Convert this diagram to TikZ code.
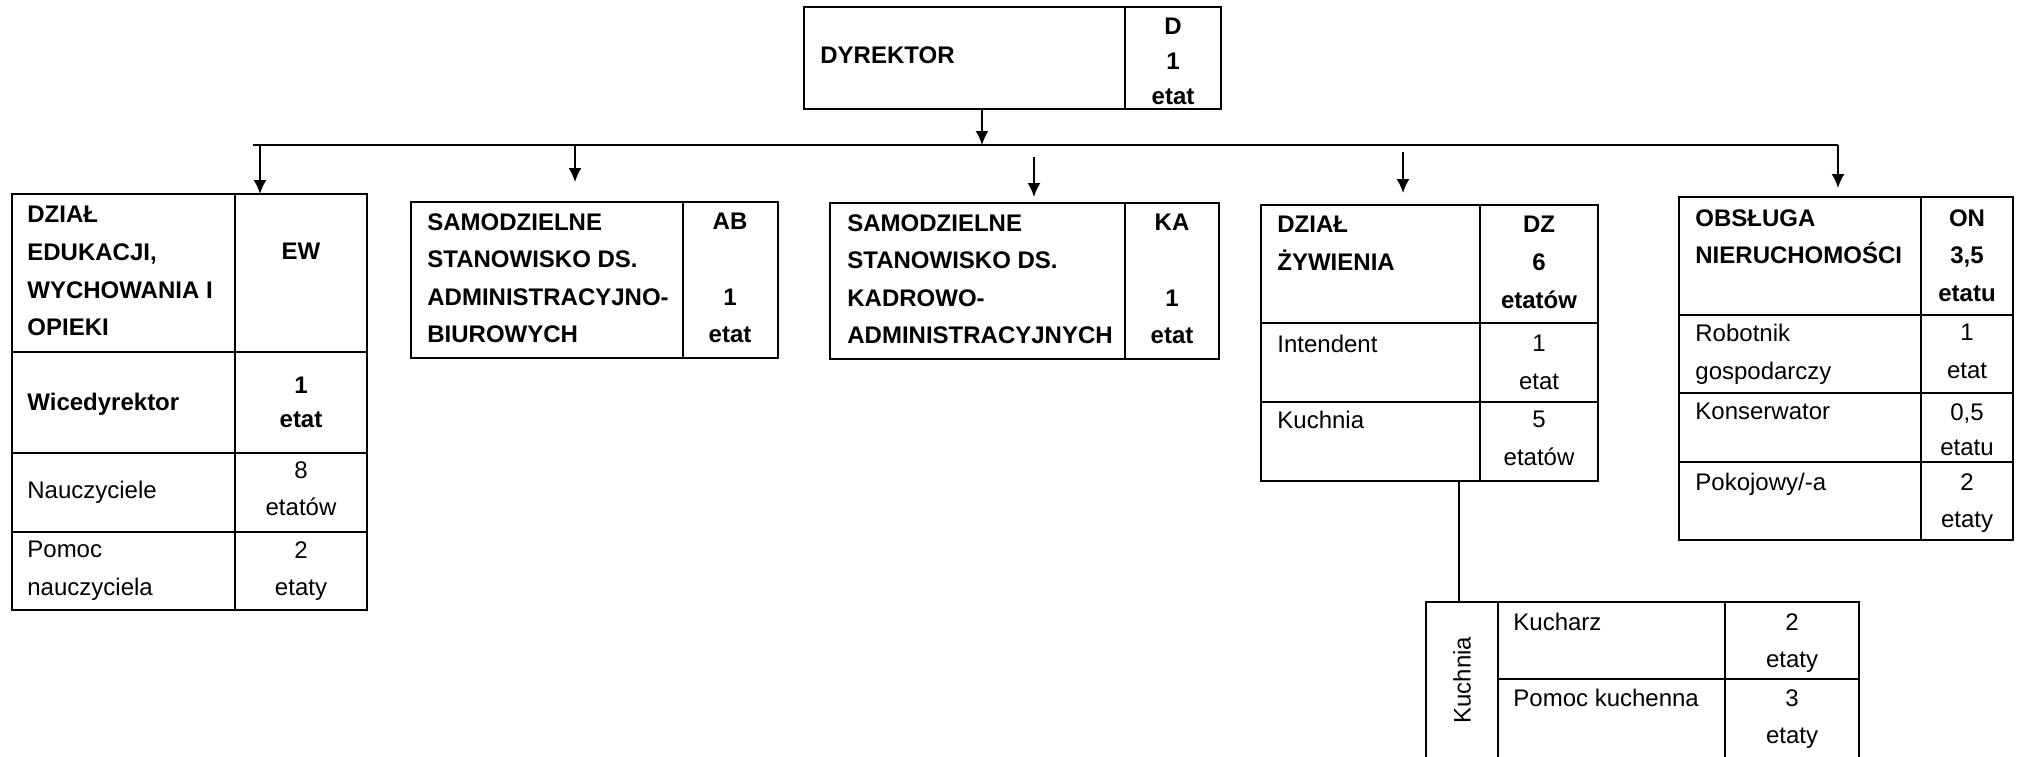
\documentclass[tikz,border=0pt]{standalone}
\usepackage{fontspec}
\setmainfont{Liberation Sans}
\usetikzlibrary{arrows.meta, positioning, calc}

\begin{document}
\begin{tikzpicture}[x=.5pt, y=-.5pt]
	\tikzstyle{box} = [draw, line width=.8pt, rectangle, anchor=north west, inner sep=0pt, outer sep=0pt]
	\tikzstyle{cell} = [line width=.8pt]
	\tikzstyle{lbl} = [anchor=north west, align=left, inner sep=0pt, font=\fontsize{12}{18.8}\selectfont]
	\tikzstyle{num} = [lbl, anchor=north, align=center]
	\tikzstyle{hd} = [lbl, font=\bfseries\fontsize{12}{18.8}\selectfont]
	\tikzstyle{hdnum} = [num, font=\bfseries\fontsize{12}{18.8}\selectfont]
	\tikzstyle{arr} = [-{Latex[length=7pt, width=6.5pt]}, line width=.9pt]
	\useasboundingbox (0,0) rectangle (2019,756);
	
	% boxes
	\node[box, minimum width=208.5pt, minimum height=51pt] (dyr) at (804,7) {};
	\node[box, minimum width=177.5pt, minimum height=208pt] (ew) at (12,194) {};
	\node[box, minimum width=183.5pt, minimum height=78pt] (ab) at (411,202) {};
	\node[box, minimum width=194.5pt, minimum height=78pt] (ka) at (830,203) {};
	\node[box, minimum width=168.5pt, minimum height=138pt] (dz) at (1261,205) {};
	\node[box, minimum width=167pt, minimum height=171.5pt] (on) at (1679,197) {};
	\node[box, minimum width=216.5pt, minimum height=78.5pt] (kuch) at (1426,602) {};
	
	% cell lines
	\draw[cell] (1125,7) -- (1125,109);
	\draw[cell] (235,194) -- (235,610) (12,352) -- (367,352) (12,453) -- (367,453) (12,532) -- (367,532);
	\draw[cell] (683,202) -- (683,358);
	\draw[cell] (1125,203) -- (1125,359);
	\draw[cell] (1480,205) -- (1480,481) (1261,323) -- (1598,323) (1261,402) -- (1598,402);
	\draw[cell] (1921,197) -- (1921,540) (1679,315) -- (2013,315) (1679,393) -- (2013,393) (1679,462) -- (2013,462);
	\draw[cell] (1498,602) -- (1498,759) (1725,602) -- (1725,759) (1498,679) -- (1859,679);
	
	% texts
	\node[hd] (dyrT) at (820,46) {DYREKTOR};
	\node[hdnum, font=\bfseries\fontsize{12}{17.5}\selectfont] (dyrN) at (1173,18) {D\\1\\etat};
	
	\node[hd] (ewT) at (27,206) {DZIAŁ\\EDUKACJI,\\WYCHOWANIA I\\OPIEKI};
	\node[hdnum] (ewN) at (301,243) {EW};
	\node[hd] (wiceT) at (27,393) {Wicedyrektor};
	\node[hdnum, font=\bfseries\fontsize{12}{17}\selectfont] (wiceN) at (301,377) {1\\etat};
	\node[lbl] (nauT) at (27,481) {Nauczyciele};
	\node[num] (nauN) at (301,461) {8\\etatów};
	\node[lbl] (pomT) at (27,541) {Pomoc\\nauczyciela};
	\node[num] (pomN) at (301,541) {2\\etaty};
	
	\node[hd] (abT) at (427,213) {SAMODZIELNE\\STANOWISKO DS.\\ADMINISTRACYJNO-\\BIUROWYCH};
	\node[hdnum] (abN) at (730,213) {AB\\~\\1\\etat};
	
	\node[hd] (kaT) at (847,214) {SAMODZIELNE\\STANOWISKO DS.\\KADROWO-\\ADMINISTRACYJNYCH};
	\node[hdnum] (kaN) at (1172,214) {KA\\~\\1\\etat};
	
	\node[hd] (dzT) at (1277,216) {DZIAŁ\\ŻYWIENIA};
	\node[hdnum] (dzN) at (1539,216) {DZ\\6\\etatów};
	\node[lbl] (intT) at (1277,335) {Intendent};
	\node[num] (intN) at (1539,335) {1\\etat};
	\node[lbl] (kuT) at (1277,411) {Kuchnia};
	\node[num] (kuN) at (1539,411) {5\\etatów};
	
	\node[hd] (onT) at (1695,209) {OBSŁUGA\\NIERUCHOMOŚCI};
	\node[hdnum] (onN) at (1967,209) {ON\\3,5\\etatu};
	\node[lbl] (robT) at (1695,324) {Robotnik\\gospodarczy};
	\node[num] (robN) at (1967,324) {1\\etat};
	\node[lbl] (konT) at (1695,403) {Konserwator};
	\node[num, font=\fontsize{12}{17.5}\selectfont] (konN) at (1967,403) {0,5\\etatu};
	\node[lbl] (pokT) at (1695,473) {Pokojowy/-a};
	\node[num] (pokN) at (1967,473) {2\\etaty};
	
	\node[rotate=90, font=\fontsize{12}{18.8}\selectfont] (kuchT) at (1462,680) {Kuchnia};
	\node[lbl] (kucT) at (1513,613) {Kucharz};
	\node[num] (kucN) at (1792,613) {2\\etaty};
	\node[lbl] (pkT) at (1513,689) {Pomoc kuchenna};
	\node[num] (pkN) at (1792,689) {3\\etaty};
	
	% connectors
	\coordinate (busL) at (253,145);
	\coordinate (busR) at (1838,145);
	\coordinate (dyrOut) at ([xshift=-15.25pt]dyr.south);
	\coordinate (toEW) at (260,145);
	\coordinate (toAB) at (575,145);
	\coordinate (toKA) at (1034,157);
	\coordinate (toDZ) at (1403,152);
	\coordinate (dzOut) at ([xshift=14.75pt]dz.south);
	
	\draw[line width=.9pt] (busL) -- (busR);
	\draw[arr] (dyrOut) -- (dyrOut |- busL);
	\draw[arr] (toEW) -- (toEW |- ew.north);
	\draw[arr, shorten >=10pt] (toAB) -- (toAB |- ab.north);
	\draw[arr, shorten >=3pt] (toKA) -- (toKA |- ka.north);
	\draw[arr, shorten >=6pt] (toDZ) -- (toDZ |- dz.north);
	\draw[arr, shorten >=4.5pt] (busR) -- (busR |- on.north);
	\draw[line width=.9pt] (dzOut) -- (dzOut |- kuch.north);
\end{tikzpicture}
\end{document}
